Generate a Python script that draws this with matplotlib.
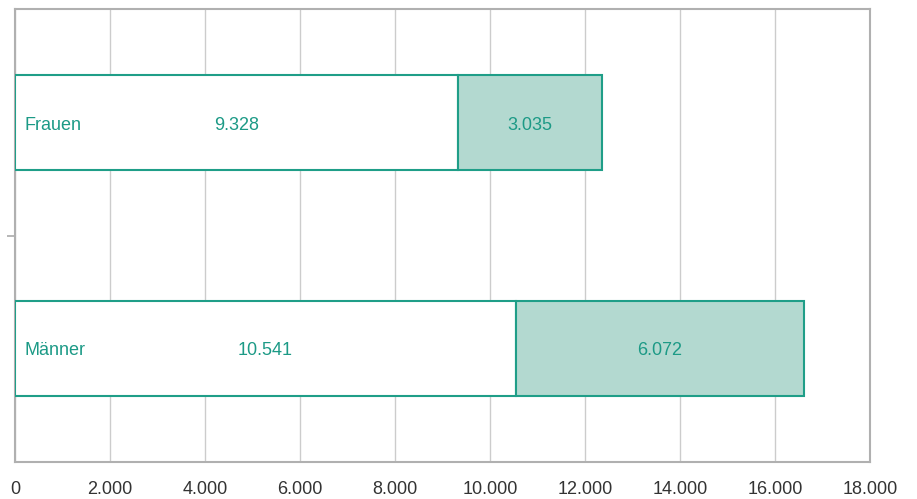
import matplotlib
matplotlib.use("Agg")
import matplotlib.pyplot as plt

categories = ["Männer", "Frauen"]
part1 = [10541, 9328]
part2 = [6072, 3035]
xticks = [0, 2000, 4000, 6000, 8000, 10000, 12000, 14000, 16000, 18000]
xticklabels = ["0", "2.000", "4.000", "6.000", "8.000", "10.000", "12.000", "14.000", "16.000", "18.000"]

def fmt(v):
    return f"{v:,}".replace(",", ".")

teal = "#1f9e88"
fill = "#b3d9d0"
text_col = "#1c9a86"

plt.rcParams['font.family'] = ['Liberation Sans', 'DejaVu Sans']

fig = plt.figure(figsize=(9.17, 4.99), dpi=100)
ax = fig.add_axes([0.0164, 0.0741, 0.9323, 0.9079])

ypos = list(range(len(categories)))
h = 0.42
ax.barh(ypos, part1, height=h, color="white", edgecolor=teal, linewidth=1.5, zorder=3)
ax.barh(ypos, part2, left=part1, height=h, color=fill, edgecolor=teal, linewidth=1.5, zorder=3)

fs = 13
for y, c, a, b in zip(ypos, categories, part1, part2):
    ax.text(200, y - 0.01, c, ha="left", va="center", color=text_col, fontsize=fs, zorder=4)
    ax.text(a / 2, y - 0.01, fmt(a), ha="center", va="center", color=text_col, fontsize=fs, zorder=4)
    ax.text(a + b / 2, y - 0.01, fmt(b), ha="center", va="center", color=text_col, fontsize=fs, zorder=4)

ax.set_xlim(0, 18000)
ax.set_ylim(-0.505, 1.505)
ax.set_xticks(xticks)
ax.set_xticklabels(xticklabels, fontsize=fs, color="#333333")
ax.tick_params(axis="x", length=0, pad=14)
ax.set_yticks([0.5])
ax.set_yticklabels([])
ax.tick_params(axis="y", length=6, width=1.2, color="#aaaaaa")
ax.grid(axis="x", color="#cccccc", linewidth=1, zorder=0)
ax.set_axisbelow(True)
for s in ax.spines.values():
    s.set_color("#b0b0b0")
    s.set_linewidth(1.5)

fig.savefig("out.png", dpi=100)
